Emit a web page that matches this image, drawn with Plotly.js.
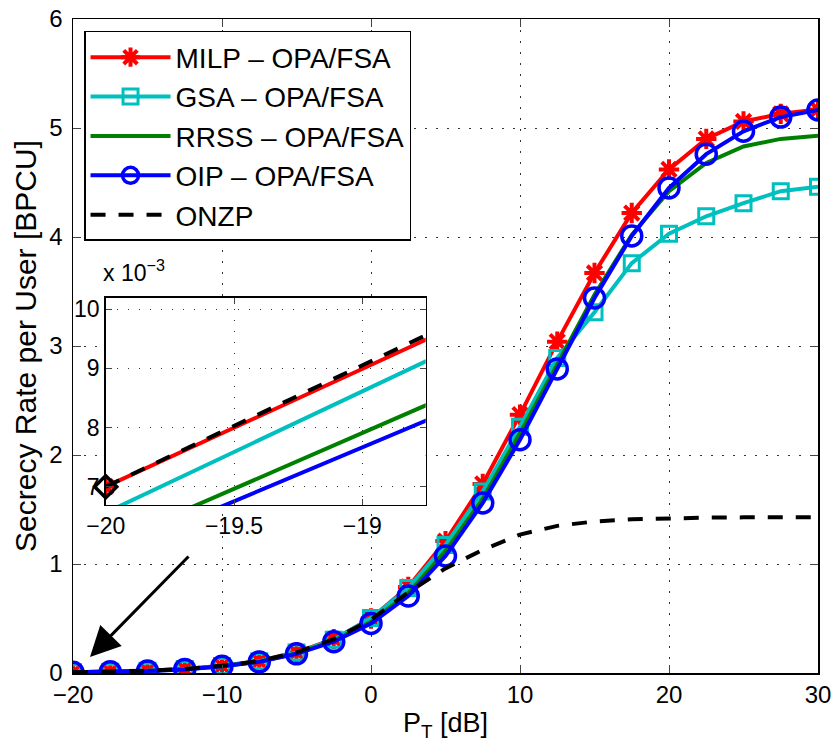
<!DOCTYPE html>
<html>
<head>
<meta charset="utf-8">
<script src="https://cdn.plot.ly/plotly-3.0.1.min.js"></script>
<style>html,body{margin:0;padding:0;background:#fff;}#chart{width:836px;height:755px;}</style>
</head>
<body>
<div id="chart"></div>
<script>
// Transmit power P_T [dB]
var powerDb = [-20,-17.5,-15,-12.5,-10,-7.5,-5,-2.5,0,2.5,5,7.5,10,12.5,15,17.5,20,22.5,25,27.5,30];
// Secrecy rate per user [BPCU]
var milp = [0.0070,0.01198,0.021,0.037,0.066,0.110,0.190,0.310,0.500,0.790,1.210,1.735,2.370,3.040,3.670,4.220,4.620,4.900,5.060,5.130,5.170];
var gsa  = [0.00656,0.01169,0.0205,0.036,0.065,0.108,0.187,0.305,0.505,0.780,1.175,1.665,2.260,2.890,3.310,3.760,4.030,4.190,4.310,4.420,4.460];
var rrss = [0.00602,0.01074,0.019,0.034,0.062,0.104,0.180,0.295,0.470,0.730,1.120,1.600,2.200,2.830,3.470,4.020,4.420,4.680,4.830,4.900,4.930];
var oip  = [0.00584,0.0104,0.0185,0.033,0.061,0.102,0.176,0.287,0.455,0.706,1.073,1.560,2.140,2.790,3.440,4.010,4.450,4.760,4.970,5.100,5.165];
var onzp = [0.0070,0.01213,0.0215,0.037,0.066,0.110,0.190,0.310,0.490,0.740,0.960,1.130,1.270,1.350,1.390,1.410,1.420,1.425,1.428,1.430,1.430];
// Tick labels
var mainXTicks = [-20,-10,0,10,20,30];
var mainYTicks = [0,1,2,3,4,5,6];
var insetXTicks = [-20,-19.5,-19];
var insetYTicks = [0.007,0.008,0.009,0.010];
var insetYLabels = ['7','8','9','10'];
var seriesNames = ['MILP – OPA/FSA','GSA – OPA/FSA','RRSS – OPA/FSA','OIP – OPA/FSA','ONZP'];

var RED='#ff0000', CYAN='#00bfbf', GREEN='#008000', BLUE='#0000ff', BLACK='#000000';
var LW = 4;
var traces = [
  {x:powerDb,y:milp,name:seriesNames[0],mode:'lines+markers',line:{color:RED,width:LW},
   marker:{symbol:'asterisk-open',size:17,color:RED,line:{color:RED,width:4}}},
  {x:powerDb,y:gsa,name:seriesNames[1],mode:'lines+markers',line:{color:CYAN,width:LW},
   marker:{symbol:'square-open',size:15,color:CYAN,line:{color:CYAN,width:3}}},
  {x:powerDb,y:rrss,name:seriesNames[2],mode:'lines',line:{color:GREEN,width:LW}},
  {x:powerDb,y:oip,name:seriesNames[3],mode:'lines+markers',line:{color:BLUE,width:LW},
   marker:{symbol:'circle-open',size:20,color:BLUE,line:{color:BLUE,width:3.5}}},
  {x:powerDb,y:onzp,name:seriesNames[4],mode:'lines',line:{color:BLACK,width:LW,dash:'15px,13px'}},
  // inset
  {x:powerDb,y:milp,xaxis:'x2',yaxis:'y2',showlegend:false,mode:'lines+markers',line:{color:RED,width:LW},
   marker:{symbol:'asterisk-open',size:17,color:RED,line:{color:RED,width:4}}},
  {x:powerDb,y:gsa,xaxis:'x2',yaxis:'y2',showlegend:false,mode:'lines',line:{color:CYAN,width:LW}},
  {x:powerDb,y:rrss,xaxis:'x2',yaxis:'y2',showlegend:false,mode:'lines',line:{color:GREEN,width:LW}},
  {x:powerDb,y:oip,xaxis:'x2',yaxis:'y2',showlegend:false,mode:'lines',line:{color:BLUE,width:LW}},
  {x:powerDb,y:onzp,xaxis:'x2',yaxis:'y2',showlegend:false,mode:'lines',line:{color:BLACK,width:LW,dash:'15px,13px'}},
  {x:[powerDb[0]],y:[onzp[0]],xaxis:'x2',yaxis:'y2',showlegend:false,mode:'markers',cliponaxis:false,
   marker:{symbol:'diamond-open',size:17,color:BLACK,line:{color:BLACK,width:3.5}}}
];

var FONT = 'Liberation Sans, Arial, sans-serif';
var gridStyle = {gridcolor:'#333',griddash:'1.5px,9.5px',gridwidth:1};
var layout = {
  width:836,height:755,
  margin:{l:73,r:18,t:19,b:82},
  paper_bgcolor:'#fff',plot_bgcolor:'#fff',
  font:{family:FONT,color:'#000',size:24},
  showlegend:true,
  legend:{x:0.0148,y:0.9817,xanchor:'left',yanchor:'top',bgcolor:'#fff',bordercolor:'#000',borderwidth:1.5,
          font:{size:28,family:FONT},itemwidth:80,tracegroupgap:0},
  xaxis:Object.assign({range:[-20,30],tickmode:'array',tickvals:mainXTicks,ticks:'inside',ticklen:8,
    showline:true,linecolor:'#000',linewidth:1.5,mirror:'ticks',showgrid:true,zeroline:false,
    tickfont:{size:24},title:{text:'P<sub>T</sub> [dB]',font:{size:27},standoff:6}},gridStyle),
  yaxis:Object.assign({range:[0,6],tickmode:'array',tickvals:mainYTicks,ticks:'inside',ticklen:8,
    showline:true,linecolor:'#000',linewidth:1.5,mirror:'ticks',showgrid:true,zeroline:false,ticklabelstandoff:4,
    tickfont:{size:24},title:{text:'Secrecy Rate per User [BPCU]',font:{size:30},standoff:4}},gridStyle),
  xaxis2:Object.assign({domain:[0.0439,0.4734],anchor:'y2',range:[-20,-18.753],tickmode:'array',tickvals:insetXTicks,
    ticks:'inside',ticklen:6,showline:true,linecolor:'#000',linewidth:1.5,mirror:'ticks',showgrid:true,zeroline:false,
    tickfont:{size:23}},gridStyle),
  yaxis2:Object.assign({domain:[0.2569,0.5739],anchor:'x2',range:[0.00669,0.010196],tickmode:'array',tickvals:insetYTicks,
    ticktext:insetYLabels,ticks:'inside',ticklen:6,showline:true,linecolor:'#000',linewidth:1.5,mirror:'ticks',
    showgrid:true,zeroline:false,tickfont:{size:23}},gridStyle),
  annotations:[
    {xref:'paper',yref:'paper',x:0.037,y:0.615,xanchor:'left',yanchor:'middle',showarrow:false,
     text:'x 10<sup>−3</sup>',font:{size:23,family:FONT}},
    {xref:'x',yref:'y',x:-18.86,y:0.147,ax:100,ay:-102,text:'',showarrow:true,arrowhead:2,arrowsize:2,
     arrowwidth:3,arrowcolor:'#000'}
  ]
};
Plotly.newPlot('chart',traces,layout,{displayModeBar:false,staticPlot:true});
</script>
</body>
</html>
